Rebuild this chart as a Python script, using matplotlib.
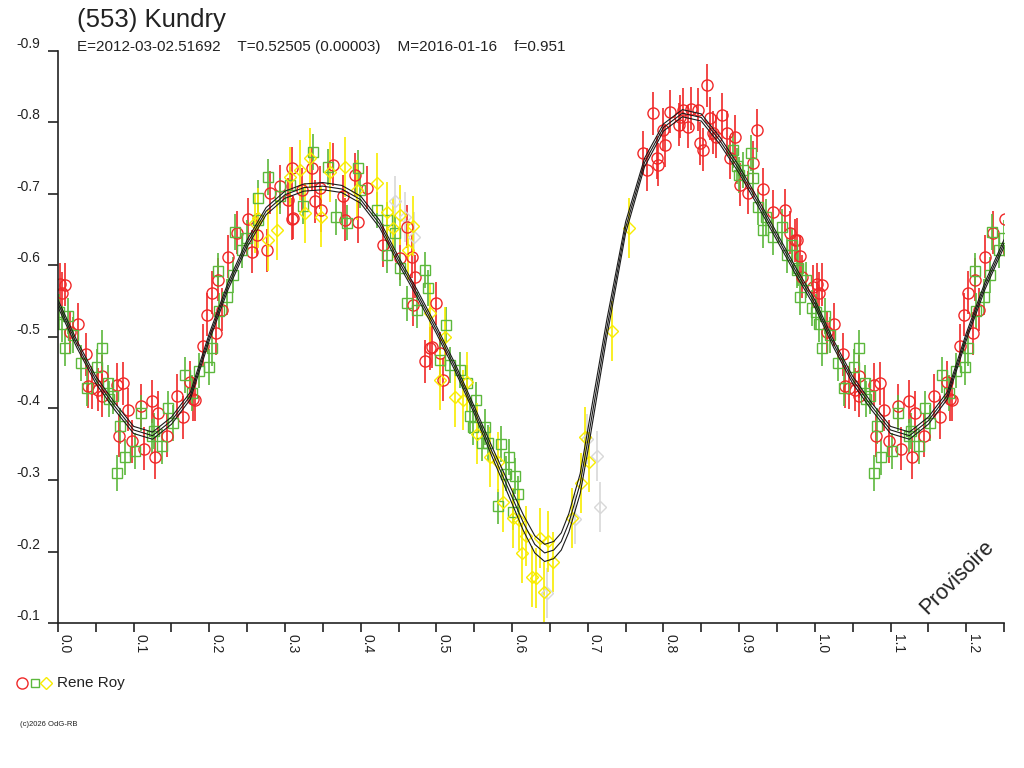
import numpy as np
import matplotlib
matplotlib.use('Agg')
import matplotlib.pyplot as plt
from matplotlib.lines import Line2D

plt.rcParams['font.family'] = ['Liberation Sans', 'DejaVu Sans']

red_phase = [0.003, 0.005, 0.009, 0.016, 0.026, 0.037, 0.040, 0.045, 0.053, 0.058,
             0.058, 0.078, 0.081, 0.086, 0.092, 0.098, 0.110, 0.114, 0.124, 0.128,
             0.132, 0.144, 0.157, 0.165, 0.174, 0.178, 0.181, 0.192, 0.197, 0.203,
             0.209, 0.211, 0.217, 0.225, 0.236, 0.251, 0.256, 0.263, 0.276, 0.280,
             0.293, 0.304, 0.309, 0.309, 0.311, 0.322, 0.335, 0.340, 0.346, 0.347,
             0.363, 0.376, 0.379, 0.392, 0.396, 0.408, 0.430, 0.452, 0.461, 0.468,
             0.469, 0.472, 0.485, 0.491, 0.494, 0.500, 0.505, 0.509,
             0.773, 0.778, 0.786, 0.791, 0.793, 0.799, 0.802, 0.808, 0.820, 0.822,
             0.826, 0.833, 0.837, 0.846, 0.848, 0.852, 0.857, 0.861, 0.865, 0.870,
             0.877, 0.884, 0.888, 0.894, 0.901, 0.912, 0.918, 0.923, 0.931, 0.945,
             0.960, 0.967, 0.974, 0.976, 0.980, 0.983, 0.997]
red_mag = [-0.574, -0.561, -0.573, -0.507, -0.518, -0.476, -0.431, -0.429, -0.426, -0.418,
           -0.445, -0.433, -0.362, -0.435, -0.398, -0.354, -0.404, -0.344, -0.410, -0.332,
           -0.394, -0.362, -0.418, -0.388, -0.437, -0.413, -0.412, -0.488, -0.531, -0.562,
           -0.505, -0.580, -0.538, -0.612, -0.646, -0.665, -0.619, -0.643, -0.621, -0.702,
           -0.711, -0.692, -0.736, -0.665, -0.667, -0.706, -0.736, -0.690, -0.709, -0.677,
           -0.741, -0.697, -0.664, -0.727, -0.661, -0.709, -0.628, -0.610, -0.654, -0.612,
           -0.545, -0.584, -0.466, -0.484, -0.486, -0.547, -0.477, -0.440,
           -0.758, -0.734, -0.813, -0.751, -0.741, -0.790, -0.768, -0.815, -0.797, -0.808,
           -0.818, -0.794, -0.819, -0.818, -0.771, -0.762, -0.852, -0.806, -0.786, -0.780,
           -0.811, -0.786, -0.751, -0.780, -0.713, -0.702, -0.744, -0.789, -0.707, -0.675,
           -0.677, -0.646, -0.635, -0.636, -0.613, -0.584, -0.570]
red_err = 0.030

green_phase = [0.001, 0.005, 0.009, 0.013, 0.020, 0.030, 0.038, 0.052, 0.058, 0.066,
               0.067, 0.073, 0.078, 0.082, 0.088, 0.102, 0.110, 0.124, 0.127, 0.137,
               0.145, 0.152, 0.168, 0.177, 0.186, 0.199, 0.203, 0.211, 0.213, 0.223,
               0.231, 0.234, 0.243, 0.250, 0.264, 0.264, 0.277, 0.293, 0.306, 0.324,
               0.337, 0.357, 0.368, 0.382, 0.396, 0.399, 0.421, 0.435, 0.435, 0.445,
               0.452, 0.461, 0.474, 0.485, 0.489, 0.505, 0.513, 0.518, 0.531, 0.540,
               0.544, 0.548, 0.552, 0.560, 0.564, 0.568, 0.581, 0.585, 0.592, 0.596,
               0.601, 0.604, 0.608,
               0.892, 0.897, 0.900, 0.905, 0.916, 0.918, 0.925, 0.931, 0.936, 0.945,
               0.956, 0.963, 0.970, 0.976, 0.978, 0.980, 0.989, 0.996]
green_mag = [-0.535, -0.518, -0.485, -0.529, -0.503, -0.464, -0.429, -0.458, -0.485, -0.436,
             -0.413, -0.418, -0.310, -0.376, -0.332, -0.341, -0.394, -0.361, -0.369, -0.347,
             -0.400, -0.380, -0.447, -0.422, -0.453, -0.458, -0.485, -0.593, -0.536, -0.556,
             -0.587, -0.647, -0.621, -0.639, -0.664, -0.695, -0.724, -0.697, -0.713, -0.683,
             -0.759, -0.738, -0.668, -0.660, -0.736, -0.706, -0.678, -0.664, -0.615, -0.646,
             -0.597, -0.547, -0.538, -0.594, -0.569, -0.468, -0.517, -0.461, -0.454, -0.436,
             -0.390, -0.374, -0.412, -0.352, -0.374, -0.352, -0.263, -0.350, -0.309, -0.332,
             -0.255, -0.306, -0.280,
             -0.762, -0.739, -0.727, -0.734, -0.757, -0.723, -0.682, -0.650, -0.668, -0.640,
             -0.654, -0.614, -0.628, -0.594, -0.597, -0.556, -0.580, -0.541]
green_err = 0.025

yellow_phase = [0.260, 0.264, 0.277, 0.289, 0.306, 0.320, 0.326, 0.333, 0.348, 0.359,
                0.379, 0.395, 0.421, 0.435, 0.443, 0.452, 0.462, 0.469, 0.491, 0.505,
                0.511, 0.524, 0.535, 0.540, 0.553, 0.571, 0.581, 0.588, 0.601, 0.609,
                0.613, 0.618, 0.626, 0.632, 0.637, 0.642, 0.647, 0.654, 0.679, 0.691,
                0.696, 0.702, 0.732, 0.754]
yellow_mag = [-0.659, -0.666, -0.635, -0.650, -0.724, -0.734, -0.674, -0.751, -0.668, -0.731,
              -0.738, -0.706, -0.716, -0.675, -0.653, -0.670, -0.622, -0.655, -0.533, -0.440,
              -0.500, -0.416, -0.412, -0.437, -0.365, -0.332, -0.325, -0.269, -0.247, -0.244,
              -0.198, -0.222, -0.165, -0.163, -0.219, -0.144, -0.214, -0.185, -0.247, -0.296,
              -0.360, -0.325, -0.508, -0.653]
yellow_err = 0.042

gray_phase = [0.445, 0.458, 0.470, 0.646, 0.683, 0.699, 0.712, 0.716]
gray_mag = [-0.690, -0.668, -0.640, -0.142, -0.246, -0.358, -0.334, -0.262]
gray_err = 0.035

# courbe ajustee (centrale et enveloppe)
fit_phase = [0.0, 0.025, 0.05, 0.075, 0.1, 0.125, 0.15, 0.175, 0.2, 0.225,
             0.25, 0.275, 0.3, 0.325, 0.35, 0.375, 0.4, 0.425, 0.45, 0.475,
             0.5, 0.525, 0.55, 0.575, 0.6, 0.615, 0.63, 0.643, 0.655, 0.665,
             0.675, 0.69, 0.7, 0.725, 0.75, 0.775, 0.8, 0.825, 0.85, 0.875,
             0.9, 0.925, 0.95, 0.975, 1.0]
fit_mid = [-0.547, -0.490, -0.440, -0.403, -0.370, -0.362, -0.383, -0.418, -0.500, -0.572,
           -0.631, -0.676, -0.699, -0.709, -0.711, -0.707, -0.692, -0.658, -0.607, -0.560,
           -0.510, -0.457, -0.398, -0.336, -0.276, -0.240, -0.210, -0.198, -0.202, -0.214,
           -0.240, -0.295, -0.355, -0.511, -0.653, -0.744, -0.793, -0.813, -0.807, -0.774,
           -0.734, -0.688, -0.640, -0.592, -0.547]
fit_hi = [-0.552, -0.495, -0.445, -0.408, -0.375, -0.367, -0.388, -0.423, -0.505, -0.577,
          -0.636, -0.681, -0.704, -0.714, -0.716, -0.712, -0.697, -0.663, -0.612, -0.565,
          -0.515, -0.462, -0.403, -0.343, -0.285, -0.251, -0.222, -0.210, -0.214, -0.226,
          -0.253, -0.309, -0.370, -0.523, -0.661, -0.750, -0.798, -0.818, -0.812, -0.779,
          -0.739, -0.693, -0.645, -0.597, -0.552]
fit_lo = [-0.542, -0.485, -0.435, -0.398, -0.365, -0.357, -0.378, -0.413, -0.495, -0.567,
          -0.626, -0.671, -0.694, -0.704, -0.706, -0.702, -0.687, -0.653, -0.602, -0.555,
          -0.505, -0.452, -0.393, -0.329, -0.267, -0.229, -0.198, -0.186, -0.190, -0.202,
          -0.227, -0.281, -0.340, -0.499, -0.645, -0.738, -0.788, -0.808, -0.802, -0.769,
          -0.729, -0.683, -0.635, -0.587, -0.542]

x_ticks = [0.0, 0.1, 0.2, 0.3, 0.4, 0.5, 0.6, 0.7, 0.8, 0.9, 1.0, 1.1, 1.2]
x_minor = [0.05, 0.15, 0.25, 0.35, 0.45, 0.55, 0.65, 0.75, 0.85, 0.95, 1.05, 1.15, 1.25]
y_ticks = [-0.1, -0.2, -0.3, -0.4, -0.5, -0.6, -0.7, -0.8, -0.9]

RED = '#f02828'
GREEN = '#5cb83c'
YELLOW = '#f8ec00'
GRAY = '#d8d8d8'
INK = '#222222'

fig = plt.figure(figsize=(10.24, 7.68), dpi=100)
ax = fig.add_axes([0.0566, 0.1888, 0.9239, 0.7448])

series = [
    (gray_phase, gray_mag, gray_err, GRAY, 'D', 6.5),
    (red_phase, red_mag, red_err, RED, 'o', 8),
    (green_phase, green_mag, green_err, GREEN, 's', 6.5),
    (yellow_phase, yellow_mag, yellow_err, YELLOW, 'D', 6.5),
]
# la courbe est repliee : la phase 1.0-1.25 reprend 0.0-0.25
for shift in (0.0, 1.0):
    for ph, mg, er, col, mk, ms in series:
        ax.errorbar(np.array(ph) + shift, mg, yerr=er, fmt=mk, ms=ms,
                    mfc='none', mec=col, mew=1.0, ecolor=col, elinewidth=1.2,
                    capsize=0)
    for curve in (fit_hi, fit_mid, fit_lo):
        ax.plot(np.array(fit_phase) + shift, curve, color='#1a1a1a', lw=0.8, zorder=5)

ax.set_xlim(0, 1.25)
ax.set_ylim(-0.1, -0.9)
for side in ('top', 'right'):
    ax.spines[side].set_visible(False)
for side in ('left', 'bottom'):
    ax.spines[side].set_color(INK)
    ax.spines[side].set_linewidth(1.2)

ax.set_xticks(x_ticks)
ax.set_xticks(x_minor, minor=True)
ax.set_xticklabels([f'{v:.1f}' for v in x_ticks], rotation=270, ha='left', va='top')
ax.set_yticks(y_ticks)
ax.set_yticklabels([f'{v:.1f}' for v in y_ticks])
ax.tick_params(axis='x', which='both', direction='out', length=6.5, width=1.2,
               colors=INK, labelsize=10, pad=1.5)
ax.tick_params(axis='y', direction='out', length=7, width=1.2, colors=INK,
               labelsize=10, pad=6)
for lab in ax.get_yticklabels():
    lab.set_va('bottom')

fig.text(0.0752, 0.974, '(553) Kundry', fontsize=18.5, color=INK, va='center')
fig.text(0.0752, 0.9385,
         'E=2012-03-02.51692    T=0.52505 (0.00003)    M=2016-01-16    f=0.951',
         fontsize=11, color=INK, va='center')

# legende
fig.add_artist(Line2D([0.0215], [0.1107], transform=fig.transFigure, marker='o', ms=8,
                      mfc='none', mec=RED, mew=1.0, ls='none'))
fig.add_artist(Line2D([0.0342], [0.1107], transform=fig.transFigure, marker='s', ms=6,
                      mfc='none', mec=GREEN, mew=1.0, ls='none'))
fig.add_artist(Line2D([0.0449], [0.1107], transform=fig.transFigure, marker='D', ms=6,
                      mfc='none', mec=YELLOW, mew=1.0, ls='none'))
fig.text(0.0557, 0.1107, 'Rene Roy', fontsize=11, color=INK, va='center')

fig.text(0.0195, 0.056, '(c)2026 OdG-RB', fontsize=5.5, color=INK, va='center')
fig.text(0.9346, 0.2487, 'Provisoire', fontsize=15.5, rotation=45, color=INK,
         ha='center', va='center')

fig.savefig('out.png', dpi=100)
